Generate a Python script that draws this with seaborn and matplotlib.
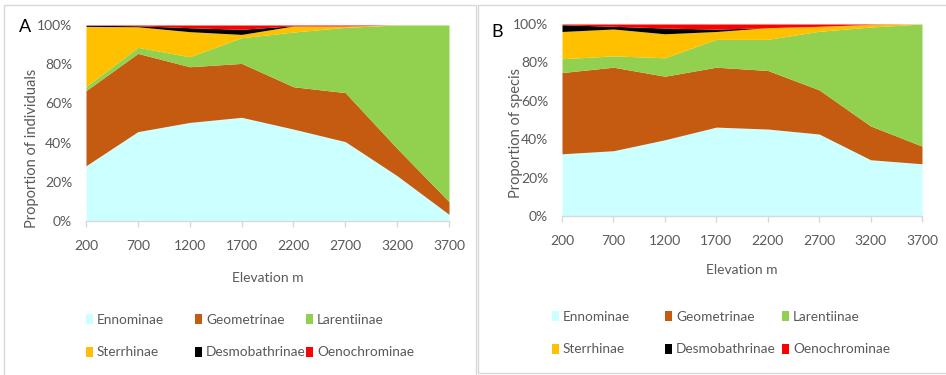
import matplotlib
matplotlib.use("Agg")
import matplotlib.pyplot as plt
from matplotlib.patches import Patch
from matplotlib.lines import Line2D
import seaborn as sns
import pandas as pd

sns.set_theme(style="white")
plt.rcParams["font.family"] = ["Lato", "DejaVu Sans"]

elevation = [200, 700, 1200, 1700, 2200, 2700, 3200, 3700]
subfamilies = ["Ennominae", "Geometrinae", "Larentiinae",
               "Sterrhinae", "Desmobathrinae", "Oenochrominae"]
colors = ["#CCFFFF", "#C55A11", "#92D050", "#FFC000", "#000000", "#FF0000"]

# Proportion of individuals (%) per subfamily
ind_ennominae = [28.2, 45.6, 50.3, 52.9, 46.9, 40.5, 23.1, 3.4]
ind_geometrinae = [38.3, 39.9, 28.4, 27.5, 21.6, 25.0, 13.9, 6.5]
ind_larentiinae = [2.0, 3.1, 5.1, 13.1, 27.9, 33.3, 63.0, 90.1]
ind_sterrhinae = [30.8, 10.5, 12.8, 1.7, 3.1, 0.7, 0.0, 0.0]
ind_desmobathrinae = [0.6, 0.5, 2.0, 2.6, 0.1, 0.0, 0.0, 0.0]
ind_oenochrominae = [0.1, 0.4, 1.4, 2.2, 0.4, 0.5, 0.0, 0.0]

# Proportion of species (%) per subfamily
sp_ennominae = [32.4, 34.0, 39.7, 46.3, 45.3, 42.7, 29.3, 27.2]
sp_geometrinae = [42.3, 43.5, 33.1, 31.2, 30.5, 23.0, 17.6, 9.2]
sp_larentiinae = [7.2, 5.9, 9.6, 14.5, 16.2, 30.5, 51.5, 63.6]
sp_sterrhinae = [14.2, 14.0, 12.5, 4.1, 6.1, 2.6, 1.4, 0.0]
sp_desmobathrinae = [3.5, 1.4, 3.0, 1.2, 0.0, 0.0, 0.0, 0.0]
sp_oenochrominae = [0.4, 1.2, 2.1, 2.7, 1.9, 1.2, 0.2, 0.0]

individuals = pd.DataFrame(
    dict(zip(subfamilies, [ind_ennominae, ind_geometrinae, ind_larentiinae,
                           ind_sterrhinae, ind_desmobathrinae, ind_oenochrominae])),
    index=elevation)
species = pd.DataFrame(
    dict(zip(subfamilies, [sp_ennominae, sp_geometrinae, sp_larentiinae,
                           sp_sterrhinae, sp_desmobathrinae, sp_oenochrominae])),
    index=elevation)

W, H = 946, 375
fig = plt.figure(figsize=(W / 100, H / 100), dpi=100)


def fx(px):
    return px / W


def fy(py):
    return 1 - py / H


text_grey = "#595959"
border_grey = "#D9D9D9"

# panel frames
fig.add_artist(Line2D([fx(4), fx(4), fx(476), fx(476)],
                      [fy(380), fy(5), fy(5), fy(380)],
                      color=border_grey, lw=1.0))
fig.add_artist(Line2D([fx(478), fx(478), fx(950)],
                      [fy(5), fy(373), fy(373)],
                      color=border_grey, lw=1.0))
fig.add_artist(Line2D([fx(478), fx(950)], [fy(5), fy(5)],
                      color=border_grey, lw=1.0))


def draw_panel(df, rect, ylabel, ylab_xy, letter, letter_xy, xlab_pad,
               leg_cols, leg_top):
    left, top, right, bottom = rect
    ax = fig.add_axes([fx(left), fy(bottom), fx(right - left),
                       (bottom - top) / H])
    ax.stackplot(df.index, [df[c].values for c in subfamilies],
                 colors=colors, linewidth=0)
    ax.set_xlim(elevation[0], elevation[-1])
    ax.set_ylim(0, 100)
    ax.set_xticks(elevation)
    ax.set_xticklabels([str(e) for e in elevation])
    ax.set_yticks(range(0, 101, 20))
    ax.set_yticklabels([f"{v}%" for v in range(0, 101, 20)])
    sns.despine(ax=ax, left=True, top=True, right=True)
    ax.spines["bottom"].set_color(border_grey)
    ax.spines["bottom"].set_linewidth(1.0)
    ax.tick_params(axis="x", colors=border_grey, labelcolor=text_grey,
                   length=4, width=1.0, direction="out", pad=10,
                   labelsize=10, bottom=True)
    ax.tick_params(axis="y", length=0, pad=10, labelcolor=text_grey,
                   labelsize=10)
    ax.set_xlabel("Elevation m", color=text_grey, fontsize=10,
                  labelpad=xlab_pad)
    ax.set_ylabel(ylabel, color=text_grey, fontsize=10.5)
    ax.yaxis.set_label_coords(*ylab_xy)
    ax.grid(False)
    fig.text(fx(letter_xy[0]), fy(letter_xy[1]), letter, fontsize=13,
             color="black", ha="center", va="center")

    # legend: three columns of two entries each
    for col, xpos in enumerate(leg_cols):
        idx = [col, col + 3]
        handles = [Patch(facecolor=colors[i], edgecolor="none") for i in idx]
        fig.legend(handles, [subfamilies[i] for i in idx],
                   loc="upper left", bbox_to_anchor=(fx(xpos), fy(leg_top)),
                   frameon=False, fontsize=9.8, labelcolor=text_grey,
                   handlelength=0.5, handleheight=0.72, handletextpad=0.3,
                   labelspacing=1.5, borderpad=0, borderaxespad=0)
    return ax


draw_panel(individuals, (86, 25, 449, 221), "Proportion of individuals",
           (-0.13, 0.37), "A", (25, 27), 14, (86, 195, 306), 314)
draw_panel(species, (562, 24, 922, 216), "Proportion of specis",
           (-0.108, 0.43), "B", (497, 32), 12, (552, 665, 782), 311)

fig.savefig("out.png", dpi=100)
